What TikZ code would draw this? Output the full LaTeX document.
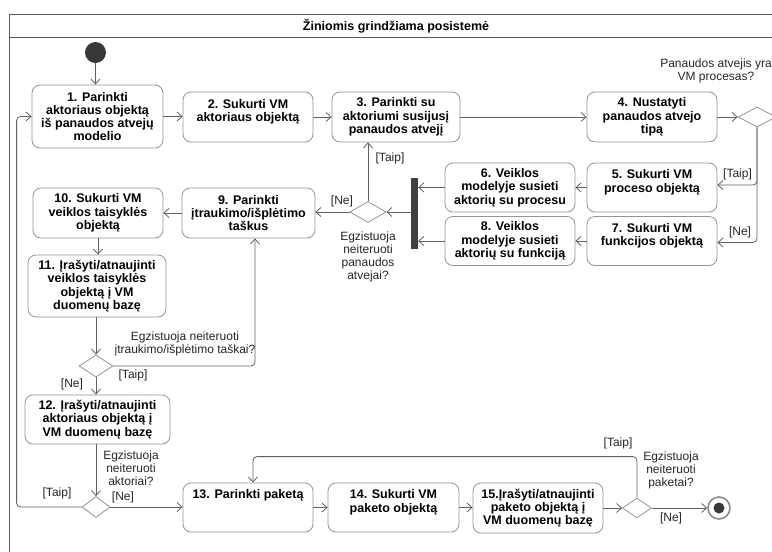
\documentclass[tikz,border=0pt]{standalone}
\usepackage{fontspec}
\setmainfont{Liberation Sans}
\usetikzlibrary{shapes.geometric,arrows.meta}
\begin{document}
\begin{tikzpicture}[x=1pt,y=-1pt,
  act/.style={draw=black!42, line width=0.8pt, rounded corners=8pt, fill=white, align=center, inner sep=0pt, font=\fontsize{12.5}{13.3}\selectfont\bfseries},
  dec/.style={diamond, draw=black!42, line width=0.8pt, fill=white, inner sep=0pt},
  flow/.style={draw=black!62, line width=0.8pt, rounded corners=4pt, -{Straight Barb[length=5pt,width=9pt]}},
  lbl/.style={align=center, inner sep=0pt, font=\fontsize{12}{13}\selectfont, text=black!85},
  frame/.style={draw=black!65, line width=0.6pt, double=white, double distance=0.9pt},
]
\useasboundingbox (0,0) rectangle (772,552);
\clip (0,0) rectangle (772,552);
\fill[white] (0,0) rectangle (772,552);

% frame
\draw[frame] (790,15) -- (10,15) -- (10,570);
\draw[frame] (10,38) -- (790,38);
\node[font=\fontsize{12.5}{13.3}\selectfont\bfseries, inner sep=0pt] (title) at (396,26.5) {Žiniomis grindžiama posistemė};

% initial
\node[circle, fill=black!78, minimum size=21pt, inner sep=0pt] (init) at (95.5,52.5) {};

% activities
\node[act, minimum width=131pt, minimum height=63pt] (n1) at (97.5,116.5) {1. Parinkti\\aktoriaus objektą\\iš panaudos atvejų\\modelio};
\node[act, minimum width=130pt, minimum height=50pt] (n2) at (248,117) {2. Sukurti VM\\aktoriaus objektą\\~};
\node[act, minimum width=128pt, minimum height=50pt] (n3) at (396,117) {3. Parinkti su\\aktoriumi susijusį\\panaudos atvejį};
\node[act, minimum width=130pt, minimum height=50pt] (n4) at (652,117) {4. Nustatyti\\panaudos atvejo\\tipą};
\node[act, minimum width=130pt, minimum height=49pt] (n5) at (652,187.5) {5. Sukurti VM\\proceso objektą\\~};
\node[act, minimum width=130pt, minimum height=49pt] (n7) at (652,241) {7. Sukurti VM\\funkcijos objektą\\~};
\node[act, minimum width=130pt, minimum height=49pt] (n6) at (510,187.5) {6. Veiklos\\modelyje susieti\\aktorių su procesu};
\node[act, minimum width=130pt, minimum height=49pt] (n8) at (510,241) {8. Veiklos\\modelyje susieti\\aktorių su funkciją};
\node[act, minimum width=133pt, minimum height=50pt] (n9) at (248.5,213) {9. Parinkti\\įtraukimo/išplėtimo\\taškus};
\node[act, minimum width=130pt, minimum height=50pt] (n10) at (98,213) {10. Sukurti VM\\veiklos taisyklės\\objektą};
\node[act, minimum width=138pt, minimum height=62pt] (n11) at (97,286) {11. Įrašyti/atnaujinti\\veiklos taisyklės\\objektą į VM\\duomenų bazę};
\node[act, minimum width=145pt, minimum height=49pt] (n12) at (97.5,419.5) {12. Įrašyti/atnaujinti\\aktoriaus objektą į\\VM duomenų bazę};
\node[act, minimum width=130pt, minimum height=49pt] (n13) at (248,507.5) {13. Parinkti paketą\\~\\~};
\node[act, minimum width=131pt, minimum height=49pt] (n14) at (393.5,507.5) {14. Sukurti VM\\paketo objektą\\~};
\node[act, minimum width=130pt, minimum height=50pt] (n15) at (538,508) {15.Įrašyti/atnaujinti\\paketo objektą į\\VM duomenų bazę};

% join bar
\node[fill=black!75, minimum width=7pt, minimum height=71pt, inner sep=0pt] (bar) at (414.5,213.5) {};

% decisions
\node[dec, minimum width=38pt, minimum height=20pt] (d1) at (757,117) {};
\node[dec, minimum width=36pt, minimum height=21pt] (d2) at (368,212) {};
\node[dec, minimum width=34pt, minimum height=22pt] (d3) at (96,366) {};
\node[dec, minimum width=28pt, minimum height=21pt] (d4) at (96,507) {};
\node[dec, minimum width=29pt, minimum height=20pt] (d5) at (637,508) {};

% final
\node[circle, draw=black!45, line width=1.6pt, fill=white, minimum size=22pt, inner sep=0pt] (fin) at (719,508) {};
\node[circle, fill=black!78, minimum size=11pt, inner sep=0pt] (findot) at (fin.center) {};

% connectors
\draw[flow] (init.south) -- (init.south |- n1.north);
\draw[flow] (n1.east) -- (n2.west |- n1.east);
\draw[flow] (n2.east) -- (n3.west);
\draw[flow] (n3.east) -- (n4.west);
\draw[flow] (n4.east) -- (d1.west);
\draw[flow] (d1.south) |- ([yshift=2.5pt]n5.east);
\draw[flow] (d1.south) |- ([yshift=-1.5pt]n7.east);
\draw[flow] (n5.west) -- (n6.east);
\draw[flow] (n7.west) -- (n8.east);
\draw[flow] (n6.west) -- (n6.west -| bar.east);
\draw[flow] (n8.west) -- (n8.west -| bar.east);
\draw[flow] (bar.west |- d2.east) -- (d2.east);
\draw[flow] (d2.north) -- (d2.north |- n3.south);
\draw[flow] (d2.west) -- (d2.west -| n9.east);
\draw[flow] (n9.west) -- (n10.east);
\draw[flow] (n10.south) -- (n10.south |- n11.north);
\draw[flow] (d3.north |- n11.south) -- (d3.north);
\draw[flow] (d3.east) -| ([xshift=6.5pt]n9.south);
\draw[flow] (d3.south) -- (d3.south |- n12.north);
\draw[flow] (d4.north |- n12.south) -- (d4.north);
\draw[flow] (d4.west) -| ([xshift=-15pt]n1.west) -- (n1.west);
\draw[flow] (d4.east) -- (d4.east -| n13.west);
\draw[flow] (n13.east) -- (n14.west);
\draw[flow] (n14.east) -- (n14.east -| n15.west);
\draw[flow] (n15.east) -- (d5.west);
\draw[flow] (d5.north) -- ++(0,-41) -| ([xshift=5pt]n13.north);
\draw[flow] (d5.east) -- (fin.west);

% labels
\node[lbl] (q1) at (716,70.5) {Panaudos atvejis yra\\VM procesas?};
\node[lbl] (t1) at (737.5,174) {[Taip]};
\node[lbl] (f1) at (740,232.5) {[Ne]};
\node[lbl] (t2) at (390,158) {[Taip]};
\node[lbl] (f2) at (342,201) {[Ne]};
\node[lbl] (q2) at (368,256.5) {Egzistuoja\\neiteruoti\\panaudos\\atvejai?};
\node[lbl] (q3) at (185,343.5) {Egzistuoja neiteruoti\\įtraukimo/išplėtimo taškai?};
\node[lbl] (t3) at (133,375) {[Taip]};
\node[lbl] (f3) at (72,384) {[Ne]};
\node[lbl] (q4) at (131,468) {Egzistuoja\\neiteruoti\\aktoriai?};
\node[lbl] (t4) at (57,493) {[Taip]};
\node[lbl] (f4) at (123,497) {[Ne]};
\node[lbl] (t5) at (618,443) {[Taip]};
\node[lbl] (q5) at (671,470) {Egzistuoja\\neiteruoti\\paketai?};
\node[lbl] (f5) at (671,518) {[Ne]};
\end{tikzpicture}
\end{document}
